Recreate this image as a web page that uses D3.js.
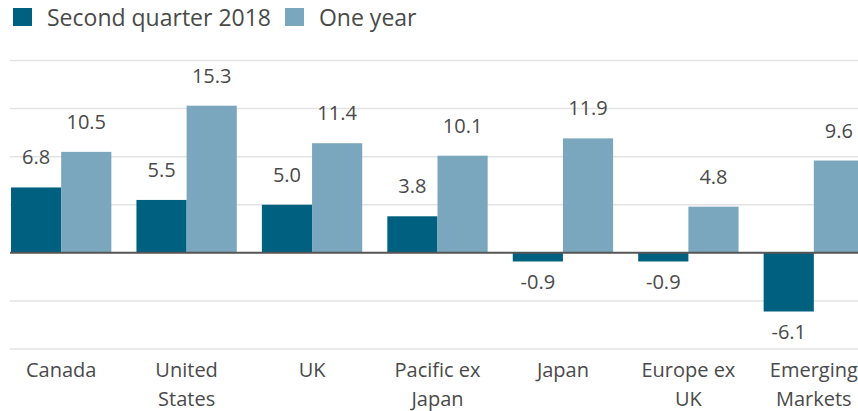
<!DOCTYPE html>
<html>
<head>
<meta charset="utf-8">
<script src="https://cdn.jsdelivr.net/npm/d3@7"></script>
<style>
  html, body { margin: 0; padding: 0; background: #fff; }
  svg { display: block; font-family: "Open Sans", "Noto Sans", sans-serif; }
</style>
</head>
<body>
<svg id="chart" width="858" height="411"></svg>
<script>
// data
const categories = [["Canada"], ["United", "States"], ["UK"], ["Pacific ex", "Japan"], ["Japan"], ["Europe ex", "UK"], ["Emerging", "Markets"]];
const secondQuarter = [6.8, 5.5, 5.0, 3.8, -0.9, -0.9, -6.1];
const oneYear = [10.5, 15.3, 11.4, 10.1, 11.9, 4.8, 9.6];
const seriesNames = ["Second quarter 2018", "One year"];
const yTicks = [-10, -5, 0, 5, 10, 15, 20];

const colors = ["#00607f", "#7ba7be"];
const textColor = "#4a4a4a";

const svg = d3.select("#chart");
const W = 858;

const y = d3.scaleLinear().domain([-10, 20]).range([349, 60.5]);

const keys = categories.map(c => c.join(" "));
const x0 = d3.scaleBand().domain(keys).range([11, 864]).paddingInner(0.2).paddingOuter(0);
const x1 = d3.scaleBand().domain([0, 1]).range([0, x0.bandwidth()]);

// gridlines
svg.append("g").selectAll("line")
  .data(yTicks.filter(d => d !== 0))
  .join("line")
  .attr("x1", 10).attr("x2", W)
  .attr("y1", d => y(d)).attr("y2", d => y(d))
  .attr("stroke", "#e3e3e3").attr("stroke-width", 1.5);

// bars
const rows = keys.map((k, i) => ({ key: k, vals: [secondQuarter[i], oneYear[i]] }));
const groups = svg.append("g").selectAll("g")
  .data(rows).join("g")
  .attr("transform", d => `translate(${x0(d.key)},0)`);

groups.selectAll("rect")
  .data(d => d.vals.map((v, s) => ({ v, s })))
  .join("rect")
  .attr("x", d => x1(d.s))
  .attr("width", x1.bandwidth())
  .attr("y", d => y(Math.max(0, d.v)))
  .attr("height", d => Math.abs(y(d.v) - y(0)))
  .attr("fill", d => colors[d.s]);

groups.selectAll("text")
  .data(d => d.vals.map((v, s) => ({ v, s })))
  .join("text")
  .attr("x", d => x1(d.s) + x1.bandwidth() / 2)
  .attr("y", d => d.v >= 0 ? y(d.v) - 23 : y(d.v) + 28)
  .attr("text-anchor", "middle")
  .attr("font-size", 20)
  .attr("fill", textColor)
  .text(d => d.v.toFixed(1));

// zero line
svg.append("line")
  .attr("x1", 10).attr("x2", W)
  .attr("y1", y(0)).attr("y2", y(0))
  .attr("stroke", "#555").attr("stroke-width", 2);

// category labels
const cat = svg.append("g").selectAll("text")
  .data(categories).join("text")
  .attr("x", (d, i) => x0(keys[i]) + x0.bandwidth() / 2)
  .attr("y", 377)
  .attr("text-anchor", "middle")
  .attr("font-size", 20)
  .attr("fill", textColor);
cat.selectAll("tspan")
  .data(d => d).join("tspan")
  .attr("x", function () { return this.parentNode.getAttribute("x"); })
  .attr("dy", (d, i) => i === 0 ? 0 : 29)
  .text(d => d);

// legend
const legend = svg.append("g");
let lx = 13;
seriesNames.forEach((name, i) => {
  legend.append("rect").attr("x", lx).attr("y", 8).attr("width", 19).attr("height", 18).attr("fill", colors[i]);
  const t = legend.append("text").attr("x", lx + 34).attr("y", 26)
    .attr("font-size", 23).attr("fill", textColor).text(name);
  lx += 34 + t.node().getComputedTextLength() + 14;
});
</script>
</body>
</html>
